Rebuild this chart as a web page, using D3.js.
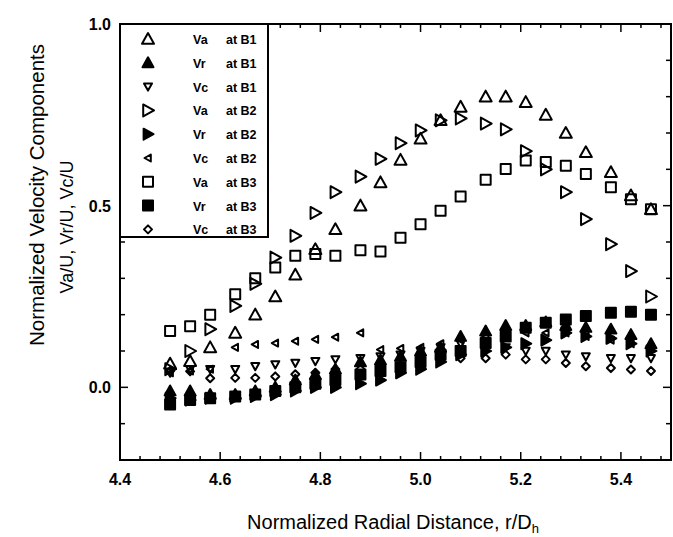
<!DOCTYPE html>
<html>
<head>
<meta charset="utf-8">
<script src="https://cdn.jsdelivr.net/npm/d3@7"></script>
<style>
	body { margin: 0; background: white; }
	text { font-family: "Liberation Sans", Arial, sans-serif; }
</style>
</head>
<body>
<script>
// radial positions r/Dh
const radial = [4.50, 4.54, 4.58, 4.63, 4.67, 4.71, 4.75, 4.79, 4.83, 4.88, 4.92, 4.96,
	5.00, 5.04, 5.08, 5.13, 5.17, 5.21, 5.25, 5.29, 5.33, 5.38, 5.42, 5.46];

const vaB1 = [0.065, 0.072, 0.11, 0.15, 0.20, 0.25, 0.31, 0.38, 0.435, 0.50, 0.564, 0.626,
	0.684, 0.735, 0.772, 0.80, 0.80, 0.785, 0.75, 0.70, 0.647, 0.592, 0.528, 0.49];
const vrB1 = [-0.01, -0.01, -0.02, -0.02, -0.01, 0.0, 0.02, 0.035, 0.05, 0.07, 0.075, 0.085,
	0.10, 0.11, 0.14, 0.155, 0.17, 0.17, 0.18, 0.17, 0.165, 0.16, 0.145, 0.12];
const vcB1 = [0.04, 0.05, 0.05, 0.05, 0.058, 0.063, 0.067, 0.072, 0.077, 0.08, 0.085, 0.09,
	0.10, 0.11, 0.12, 0.12, 0.11, 0.10, 0.10, 0.09, 0.085, 0.08, 0.08, 0.08];
const vaB2 = [0.05, 0.10, 0.16, 0.224, 0.285, 0.357, 0.417, 0.48, 0.537, 0.58, 0.629, 0.672,
	0.707, 0.735, 0.74, 0.726, 0.71, 0.65, 0.60, 0.537, 0.463, 0.394, 0.32, 0.25];
const vrB2 = [-0.03, -0.035, -0.03, -0.03, -0.025, -0.02, -0.01, 0.0, 0.0, 0.01, 0.02, 0.04,
	0.05, 0.07, 0.09, 0.10, 0.11, 0.12, 0.13, 0.15, 0.14, 0.135, 0.12, 0.10];
const vcB2 = [0.04, 0.045, 0.05, 0.11, 0.118, 0.122, 0.127, 0.132, 0.138, 0.15, 0.104, 0.107,
	0.11, 0.12, 0.13, 0.14, 0.14, 0.15, 0.15, 0.15, 0.14, 0.13, 0.12, 0.11];
const vaB3 = [0.155, 0.168, 0.20, 0.256, 0.30, 0.33, 0.362, 0.367, 0.362, 0.377, 0.374, 0.412,
	0.449, 0.486, 0.525, 0.571, 0.601, 0.624, 0.62, 0.61, 0.587, 0.551, 0.518, 0.49];
const vrB3 = [-0.047, -0.035, -0.03, -0.025, -0.02, -0.01, 0.0, 0.01, 0.02, 0.035, 0.045, 0.055,
	0.07, 0.09, 0.10, 0.122, 0.14, 0.164, 0.178, 0.187, 0.196, 0.205, 0.208, 0.20];
const vcB3 = [0.045, 0.044, 0.025, 0.026, 0.026, 0.03, 0.036, 0.04, 0.05, 0.05, 0.055, 0.06,
	0.065, 0.08, 0.08, 0.08, 0.09, 0.077, 0.077, 0.067, 0.058, 0.053, 0.049, 0.045];

const seriesNames = ["Va", "Vr", "Vc", "Va", "Vr", "Vc", "Va", "Vr", "Vc"];
const seriesSites = ["at B1", "at B1", "at B1", "at B2", "at B2", "at B2", "at B3", "at B3", "at B3"];
const seriesValues = [vaB1, vrB1, vcB1, vaB2, vrB2, vcB2, vaB3, vrB3, vcB3];

const xTickLabels = [4.4, 4.6, 4.8, 5.0, 5.2, 5.4];
const yTickLabels = [0.0, 0.5, 1.0];

// marker style per series: shape, size, filled
const markers = [
	{shape: "up", size: 12, fill: false},
	{shape: "up", size: 11, fill: true},
	{shape: "down", size: 8, fill: false},
	{shape: "right", size: 12, fill: false},
	{shape: "right", size: 11, fill: true},
	{shape: "left", size: 7, fill: false},
	{shape: "square", size: 10, fill: false},
	{shape: "square", size: 10, fill: true},
	{shape: "diamond", size: 8, fill: false}
];

function markerPath(shape, s){
	const h = s / 2;
	if (shape === "up") return `M0,${-h} L${h},${h*0.8} L${-h},${h*0.8} Z`;
	if (shape === "down") return `M0,${h} L${h},${-h*0.8} L${-h},${-h*0.8} Z`;
	if (shape === "right") return `M${h},0 L${-h*0.8},${h} L${-h*0.8},${-h} Z`;
	if (shape === "left") return `M${-h},0 L${h*0.8},${h} L${h*0.8},${-h} Z`;
	if (shape === "square") return `M${-h},${-h} L${h},${-h} L${h},${h} L${-h},${h} Z`;
	return `M0,${-h} L${h},0 L0,${h} L${-h},0 Z`;
}

function init(){
	const width = 673, height = 537;
	const left = 120, right = 671, top = 24, bottom = 460;

	const svg = d3.select("body").append("svg")
		.attr("width", width)
		.attr("height", height)
		.style("background-color", "white");

	const x = d3.scaleLinear().domain([4.4, 5.5]).range([left, right]);
	const y = d3.scaleLinear().domain([-0.2, 1.0]).range([bottom, top]);

	// ticks, inward on all four sides
	const xMinor = d3.range(4.44, 5.5, 0.04);
	const yMinor = d3.range(-0.1, 1.0, 0.1);
	const isMajorX = v => Math.abs(v * 5 - Math.round(v * 5)) < 1e-6;
	const isMajorY = v => Math.abs(v * 2 - Math.round(v * 2)) < 1e-6;

	const ticks = svg.append("g").attr("stroke", "black").attr("stroke-width", 1.5);
	xMinor.forEach(v => {
		const len = isMajorX(v) ? 8 : 4;
		ticks.append("line").attr("x1", x(v)).attr("x2", x(v)).attr("y1", bottom).attr("y2", bottom - len);
		ticks.append("line").attr("x1", x(v)).attr("x2", x(v)).attr("y1", top).attr("y2", top + len);
	});
	yMinor.forEach(v => {
		const len = isMajorY(v) ? 8 : 5;
		ticks.append("line").attr("x1", left).attr("x2", left + len).attr("y1", y(v)).attr("y2", y(v));
		ticks.append("line").attr("x1", right).attr("x2", right - len).attr("y1", y(v)).attr("y2", y(v));
	});

	// tick labels
	svg.append("g").selectAll("text").data(xTickLabels).join("text")
		.attr("x", d => x(d))
		.attr("y", 485)
		.attr("text-anchor", "middle")
		.attr("font-size", 16)
		.attr("font-weight", "bold")
		.text(d => d.toFixed(1));
	svg.append("g").selectAll("text").data(yTickLabels).join("text")
		.attr("x", 111)
		.attr("y", d => y(d) + 6)
		.attr("text-anchor", "end")
		.attr("font-size", 16)
		.attr("font-weight", "bold")
		.text(d => d.toFixed(1));

	// axis titles
	const xt = svg.append("text")
		.attr("x", 393)
		.attr("y", 529)
		.attr("text-anchor", "middle")
		.attr("font-size", 20)
		.text("Normalized Radial Distance, r/D");
	xt.append("tspan").attr("font-size", 13).attr("dy", 4).text("h");

	svg.append("text")
		.attr("transform", "translate(44,195) rotate(-90)")
		.attr("text-anchor", "middle")
		.attr("font-size", 20.5)
		.text("Normalized Velocity Components");
	svg.append("text")
		.attr("transform", "translate(73,227) rotate(-90)")
		.attr("text-anchor", "middle")
		.attr("font-size", 18)
		.text("Va/U, Vr/U, Vc/U");

	// data markers
	seriesValues.forEach((vals, i) => {
		const m = markers[i];
		svg.append("g").selectAll("path").data(vals).join("path")
			.attr("transform", (d, j) => `translate(${x(radial[j])},${y(d)})`)
			.attr("d", markerPath(m.shape, m.size))
			.attr("fill", m.fill ? "black" : "white")
			.attr("fill-opacity", m.fill ? 1 : 0)
			.attr("stroke", "black")
			.attr("stroke-width", 2)
			.attr("stroke-linejoin", "round");
	});

	// legend box
	const legend = svg.append("g");
	legend.append("rect")
		.attr("x", left)
		.attr("y", top)
		.attr("width", 148)
		.attr("height", 213)
		.attr("fill", "white")
		.attr("stroke", "black")
		.attr("stroke-width", 2);
	seriesNames.forEach((name, i) => {
		const ly = 39 + i * 23.8;
		const m = markers[i];
		legend.append("path")
			.attr("transform", `translate(148,${ly})`)
			.attr("d", markerPath(m.shape, m.size))
			.attr("fill", m.fill ? "black" : "white")
			.attr("stroke", "black")
			.attr("stroke-width", 2)
			.attr("stroke-linejoin", "round");
		legend.append("text")
			.attr("x", 193)
			.attr("y", ly + 5)
			.attr("font-size", 12.5)
			.attr("font-weight", "bold")
			.text(name);
		legend.append("text")
			.attr("x", 226)
			.attr("y", ly + 5)
			.attr("font-size", 12.5)
			.attr("font-weight", "bold")
			.text(seriesSites[i]);
	});

	// frame
	svg.append("rect")
		.attr("x", left)
		.attr("y", top)
		.attr("width", right - left)
		.attr("height", bottom - top)
		.attr("fill", "none")
		.attr("stroke", "black")
		.attr("stroke-width", 2);
}
init();
</script>
</body>
</html>
